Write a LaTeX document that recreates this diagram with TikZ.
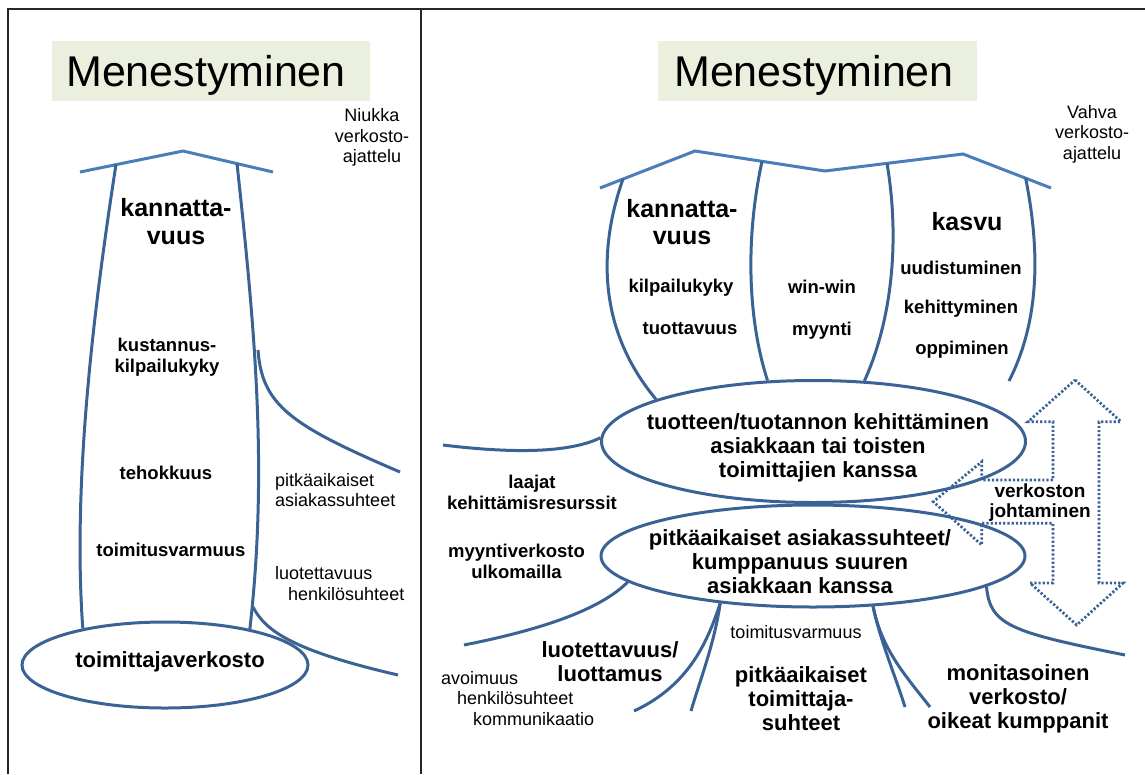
\documentclass[tikz,border=0pt]{standalone}
\usepackage{fontspec}
\setmainfont{Liberation Sans}
\usetikzlibrary{shapes.geometric}
\definecolor{roofblue}{RGB}{74,126,187}
\definecolor{lineblue}{RGB}{59,98,148}
\definecolor{titlefill}{RGB}{235,240,222}

\begin{document}
\begin{tikzpicture}[x=1pt,y=-1pt,
  frame/.style={line width=2pt, black!85},
  roof/.style={roofblue, line width=3pt},
  link/.style={lineblue, line width=3pt},
  oval/.style={draw=lineblue, line width=3pt, ellipse, inner sep=0pt},
  titletext/.style={font=\fontsize{43}{50}\selectfont, inner sep=0pt, anchor=base},
  note/.style={font=\fontsize{18}{20.5}\selectfont, inner sep=0pt, align=center},
  notel/.style={font=\fontsize{18}{20.5}\selectfont, inner sep=0pt, align=left},
  small/.style={font=\bfseries\fontsize{18.5}{20.5}\selectfont, inner sep=0pt, align=center},
  medium/.style={font=\bfseries\fontsize{22}{24}\selectfont, inner sep=0pt, align=center},
  large/.style={font=\bfseries\fontsize{25}{27.5}\selectfont, inner sep=0pt, align=center},
  dots/.style={lineblue, line width=2.8pt, dash pattern=on 2.2pt off 2pt}
]
\useasboundingbox (0,0) rectangle (1145,774);

% frame and divider
\draw[frame] (8,774) -- (8,9) -- (1145,9);
\draw[frame] (421,9) -- (421,774);

% titles
\fill[titlefill] (52,41) rectangle (370,101);
\node[titletext] (titleL) at (206,86) {Menestyminen};
\fill[titlefill] (658,41) rectangle (977,101);
\node[titletext] (titleR) at (814,86) {Menestyminen};

% ---------------- left panel ----------------
\node[note] (weak) at (372,137.5) {Niukka\\verkosto-\\ajattelu};

\coordinate (lr1) at (80,172);
\coordinate (lr2) at (183,151);
\coordinate (lr3) at (273,172);
\draw[roof] (lr1) -- (lr2) -- (lr3);

\node[oval, minimum width=286pt, minimum height=86pt] (E0) at (165,665) {};
\node[medium] (supplier) at (170,662) {toimittajaverkosto};

\coordinate (l1top) at (116,164.5);
\coordinate (l2top) at (237,163.6);
\draw[link] (l1top) .. controls (95,300) and (72,480) .. (E0.156);
\draw[link] (l2top) .. controls (255,330) and (268,470) .. (E0.23);

\coordinate (b1s) at (258,350);
\coordinate (b1e) at (400,472);
\draw[link] (b1s) .. controls (262,405) and (290,425) .. (b1e);
\coordinate (b2s) at (253,607);
\coordinate (b2e) at (398,675);
\draw[link] (b2s) .. controls (265,630) and (290,650) .. (b2e);

\node[large] (profitL) at (176,221.5) {kannatta-\\vuus};
\node[small] (costL) at (167,357) {kustannus-\\kilpailukyky};
\node[small] (effL) at (166,473) {tehokkuus};
\node[small] (delivL) at (171,550) {toimitusvarmuus};
\node[notel, anchor=west] (custL) at (275,490) {pitkäaikaiset\\asiakassuhteet};
\node[note, anchor=west] (trustL) at (275,573) {luotettavuus};
\node[note, anchor=west] (persL) at (288,594) {henkilösuhteet};

% ---------------- right panel ----------------
\node[note] (strong) at (1092,134) {Vahva\\verkosto-\\ajattelu};

\coordinate (rr1) at (600,188);
\coordinate (rr2) at (695,151);
\coordinate (rr3) at (825,171);
\coordinate (rr4) at (963,154);
\coordinate (rr5) at (1051,188);
\draw[roof] (rr1) -- (rr2) -- (rr3) -- (rr4) -- (rr5);

\node[oval, minimum width=424pt, minimum height=122pt] (E1) at (813.5,441.5) {};
\node[oval, minimum width=424pt, minimum height=102pt] (E2) at (813,556) {};
\node[medium] (devel) at (818,448) {tuotteen/tuotannon kehittäminen\\asiakkaan tai toisten\\toimittajien kanssa};
\node[medium] (partner) at (800,562) {pitkäaikaiset asiakassuhteet/\\kumppanuus suuren\\asiakkaan kanssa};

\coordinate (v1top) at (623,179);
\coordinate (v2top) at (762,161.3);
\coordinate (v3top) at (887,163.4);
\coordinate (v4top) at (1025.6,178);
\coordinate (v4end) at (1009,381);
\draw[link] (v1top) .. controls (598,250) and (598,330) .. (E1.165);
\draw[link] (v2top) .. controls (745,240) and (748,320) .. (E1.127);
\draw[link] (v3top) .. controls (900,240) and (892,320) .. (E1.50);
\draw[link] (v4top) .. controls (1040,250) and (1040,320) .. (v4end);

\coordinate (wl) at (443,445);
\draw[link] (wl) .. controls (500,452) and (565,455) .. (E1.179);

\coordinate (sw) at (464,645);
\draw[link] (E2.188) .. controls (600,610) and (540,630) .. (sw);
\coordinate (la) at (634,711);
\coordinate (lb) at (691,711);
\draw[link] (E2.207) .. controls (708,640) and (690,685) .. (la);
\draw[link] (E2.207) .. controls (714,645) and (700,680) .. (lb);
\coordinate (ra) at (905,707);
\coordinate (rb) at (930,707);
\draw[link] (E2.320) .. controls (880,640) and (895,675) .. (ra);
\draw[link] (E2.320) .. controls (882,650) and (905,675) .. (rb);
\coordinate (se) at (1125,655);
\draw[link] (E2.350) .. controls (990,625) and (1010,632) .. (se);

% labels of the right panel
\node[large] (profitR) at (682,222) {kannatta-\\vuus};
\node[small] (compet) at (681,288) {kilpailukyky};
\node[small] (yield) at (690,329) {tuottavuus};
\node[small] (winwin) at (822,287) {win-win};
\node[small] (sales) at (822,331) {myynti};
\node[large] (growth) at (967,222) {kasvu};
\node[small] (renew) at (961,268) {uudistuminen};
\node[small] (develop) at (961,309) {kehittyminen};
\node[small] (learn) at (962,350) {oppiminen};

\node[small] (resources) at (532,492.5) {laajat\\kehittämisresurssit};
\node[small] (salesnet) at (516.5,561.5) {myyntiverkosto\\ulkomailla};
\node[medium] (trustR) at (610,661.5) {luotettavuus/\\luottamus};
\node[note, anchor=west] (open) at (441,678) {avoimuus};
\node[note, anchor=west] (persR) at (457,698) {henkilösuhteet};
\node[note, anchor=west] (comm) at (473,719) {kommunikaatio};
\node[note] (delivR) at (796,632) {toimitusvarmuus};
\node[medium] (suppR) at (801,699) {pitkäaikaiset\\toimittaja-\\suhteet};
\node[medium] (multi) at (1018,699) {monitasoinen\\verkosto/\\oikeat kumppanit};

% dotted arrows of network management
\draw[dots] (1075,380) -- (1121,421.7) -- (1099,421.7) -- (1099,583) -- (1123,583)
  -- (1076.7,625) -- (1030,583) -- (1053,583) -- (1053,523.3) -- (981.7,523.3)
  -- (981.7,545) -- (933.3,501.7) -- (981.7,461.7) -- (981.7,480) -- (1053,480)
  -- (1053,421.7) -- (1028,421.7) -- cycle;
\node[font=\bfseries\fontsize{19}{20}\selectfont, inner sep=0pt, align=center] (mgmt) at (1040,503) {verkoston\\johtaminen};

\end{tikzpicture}
\end{document}
